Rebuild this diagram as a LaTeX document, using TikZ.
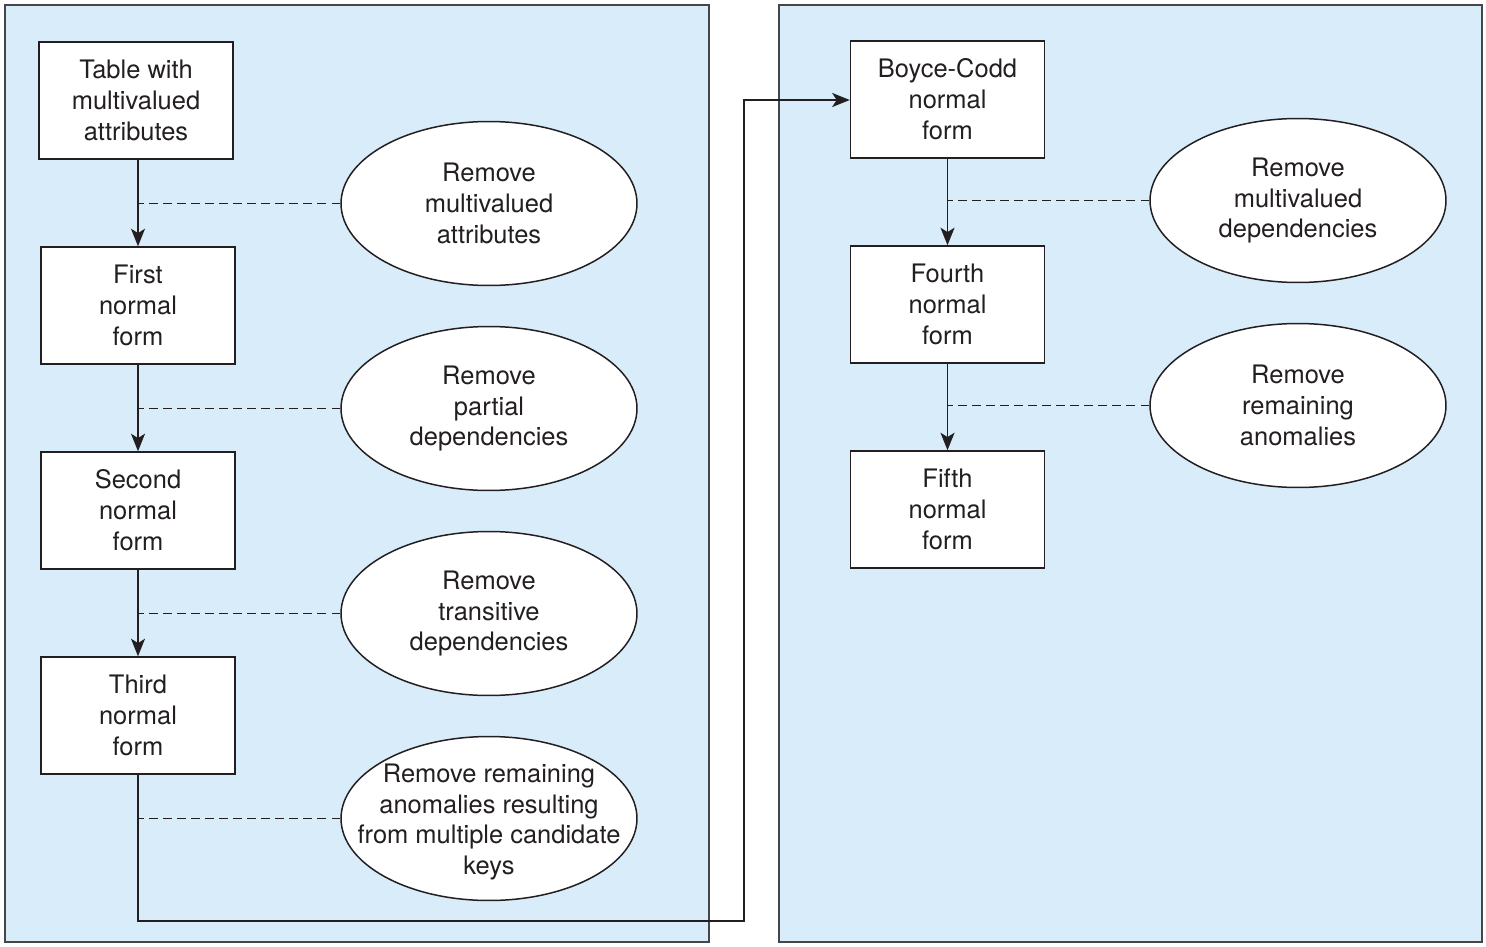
\documentclass[tikz,border=0pt]{standalone}
\usepackage{fontspec}
\setmainfont{TeX Gyre Heros}
\usetikzlibrary{arrows.meta,shapes.geometric}
\definecolor{panelfill}{HTML}{D8ECFA}
\definecolor{panelline}{HTML}{464646}
\definecolor{ink}{HTML}{231F20}
\begin{document}
\begin{tikzpicture}[x=0.02cm,y=-0.02cm,
  panel/.style={draw=panelline,fill=panelfill,line width=1.2pt},
  formbox/.style={draw=ink,fill=white,line width=0.85pt,minimum width=3.88cm,minimum height=2.34cm,inner sep=0pt,align=center,text=ink,font=\fontsize{14.5}{17.6}\selectfont},
  stepell/.style={draw=ink,fill=white,line width=0.85pt,ellipse,minimum width=5.92cm,minimum height=3.28cm,inner sep=0pt,align=center,text=ink,font=\fontsize{14.5}{17.6}\selectfont},
  steptext/.style={align=center,text=ink,inner sep=0pt,font=\fontsize{14.5}{17.6}\selectfont},
  flow/.style={draw=ink,line width=0.8pt,-{Stealth[length=10pt,width=8pt,inset=2.5pt]}},
  link/.style={draw=ink,line width=0.8pt,dash pattern=on 5pt off 3pt}]
\useasboundingbox (0,0) rectangle (1486,946);
\path[panel] (5,5) rectangle (709,942);
\path[panel] (779,5) rectangle (1482,942);
% left column
\node[formbox] (t0) at (136,100.5) {Table with\\multivalued\\attributes};
\node[formbox] (nf1) at (138,305.5) {First\\normal\\form};
\node[formbox] (nf2) at (138,510.5) {Second\\normal\\form};
\node[formbox] (nf3) at (138,715.5) {Third\\normal\\form};
\node[stepell] (e1) at (489,203.5) {Remove\\multivalued\\attributes};
\node[stepell] (e2) at (489,408.5) {Remove\\partial\\dependencies};
\node[stepell] (e3) at (489,613.5) {Remove\\transitive\\dependencies};
\node[stepell] (e4) at (489,818.5) {};
\node[steptext] (e4t) at (489,822) {Remove remaining\\anomalies resulting\\from multiple candidate\\keys};
% right column
\node[formbox] (bc) at (947.5,99.5) {Boyce-Codd\\normal\\form};
\node[formbox] (nf4) at (947.5,304.5) {Fourth\\normal\\form};
\node[formbox] (nf5) at (947.5,509.5) {Fifth\\normal\\form};
\node[stepell] (e5) at (1298,200.5) {Remove\\multivalued\\dependencies};
\node[stepell] (e6) at (1298,405.5) {Remove\\remaining\\anomalies};
% flow arrows
\coordinate (c0) at (138,159);
\draw[flow] (c0) -- (nf1.north);
\draw[flow] (nf1.south) -- (nf2.north);
\draw[flow] (nf2.south) -- (nf3.north);
\coordinate (d1) at (138,921);
\coordinate (d2) at (744,921);
\coordinate (d3) at (744,100);
\draw[flow] (nf3.south) -- (d1) -- (d2) -- (d3) -- (d3 -| bc.west);
\draw[flow] (bc.south) -- (nf4.north);
\draw[flow] (nf4.south) -- (nf5.north);
% dashed links
\draw[link] (e1.west) -- (138,203.5);
\draw[link] (e2.west) -- (138,408.5);
\draw[link] (e3.west) -- (138,613.5);
\draw[link] (e4.west) -- (138,818.5);
\draw[link] (e5.west) -- (947.5,200.5);
\draw[link] (e6.west) -- (947.5,405.5);
\end{tikzpicture}
\end{document}
